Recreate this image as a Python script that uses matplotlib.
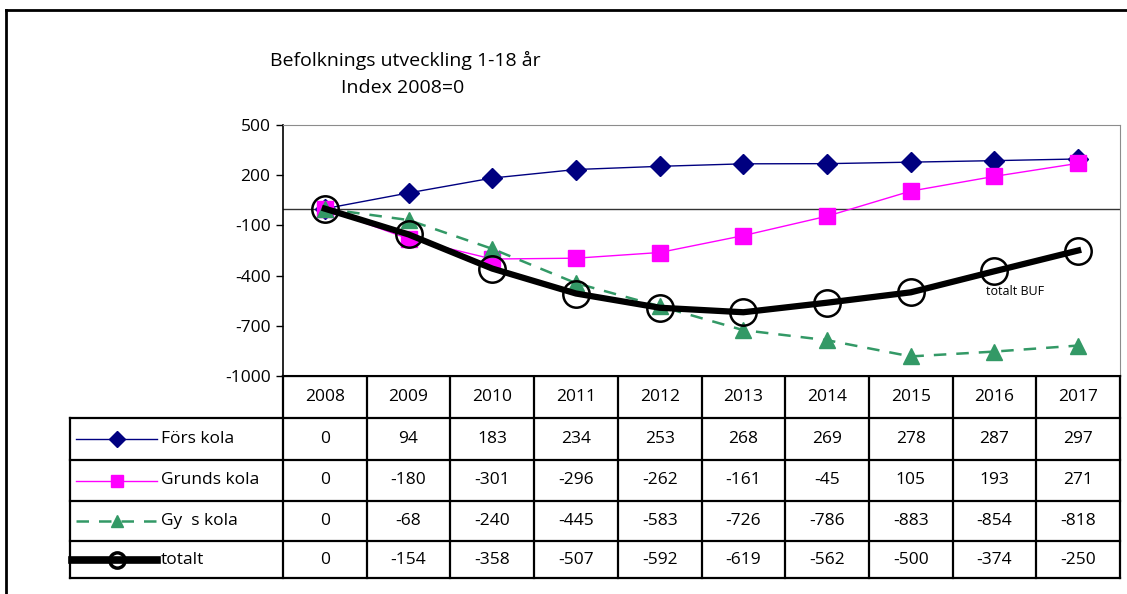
import matplotlib
matplotlib.use("Agg")
import matplotlib.pyplot as plt
from matplotlib.lines import Line2D

plt.rcParams['font.family'] = ['Open Sans', 'DejaVu Sans']

years = [2008, 2009, 2010, 2011, 2012, 2013, 2014, 2015, 2016, 2017]
forskola = [0, 94, 183, 234, 253, 268, 269, 278, 287, 297]
grundskola = [0, -180, -301, -296, -262, -161, -45, 105, 193, 271]
gyskola = [0, -68, -240, -445, -583, -726, -786, -883, -854, -818]
totalt = [0, -154, -358, -507, -592, -619, -562, -500, -374, -250]

series_names = ['Förs kola', 'Grunds kola', 'Gy  s kola', 'totalt']
yticks = [500, 200, -100, -400, -700, -1000]

W, H = 1127, 594
FS = 12.5
fig = plt.figure(figsize=(W / 100, H / 100), dpi=100)

# pixel layout
px_left, px_right = 283, 1120
px_top, px_bottom = 125, 376
row_edges = [376, 418, 460, 501, 541, 578]
leg_left = 70

ax = fig.add_axes([px_left / W, 1 - px_bottom / H,
                   (px_right - px_left) / W, (px_bottom - px_top) / H])
ax.set_xlim(-0.5, len(years) - 0.5)
ax.set_ylim(-1000, 500)
ax.set_yticks(yticks)
ax.set_yticklabels([str(v) for v in yticks], fontsize=FS)
ax.tick_params(axis='y', direction='out', length=5, width=1, pad=4)
ax.set_xticks([])
ax.spines['top'].set_color('#8c8c8c')
ax.spines['right'].set_color('#8c8c8c')
ax.spines['left'].set_linewidth(1.2)
ax.spines['bottom'].set_linewidth(1.5)
ax.axhline(0, color='#333333', lw=1)

x = list(range(len(years)))
styles = [
    dict(color='#000080', lw=1, marker='D', ms=10, mec='#000080', mfc='#000080'),
    dict(color='#ff00ff', lw=1, marker='s', ms=11, mec='#ff00ff', mfc='#ff00ff'),
    dict(color='#339966', lw=1.8, ls=(0, (5, 4)), marker='^', ms=11, mec='#339966', mfc='#339966'),
    dict(color='black', lw=4.5, marker='o', ms=19, mfc='none', mec='black', mew=1.8),
]
for vals, st in zip([forskola, grundskola, gyskola, totalt], styles):
    ax.plot(x, vals, clip_on=False, **st)

ax.text(8.25, -495, 'totalt BUF', fontsize=9, ha='center', va='center')

# title
fig.text(405 / W, 1 - 60 / H, 'Befolknings utveckling 1-18 år', fontsize=14,
         ha='center', va='center')
fig.text(403 / W, 1 - 88 / H, 'Index 2008=0', fontsize=14,
         ha='center', va='center')

# data table below the plot
tab = fig.add_axes([0, 0, 1, 1], zorder=-1)
tab.set_xlim(0, W)
tab.set_ylim(H, 0)
tab.axis('off')

col_w = (px_right - px_left) / len(years)
lw = 1.6
for i, y in enumerate(row_edges):
    x0 = px_left if i == 0 else leg_left
    tab.plot([x0, px_right], [y, y], color='black', lw=lw)
for j in range(len(years) + 1):
    xv = px_left + j * col_w
    tab.plot([xv, xv], [row_edges[0], row_edges[-1]], color='black', lw=lw)
tab.plot([leg_left, leg_left], [row_edges[1], row_edges[-1]], color='black', lw=lw)

for j, yr in enumerate(years):
    tab.text(px_left + (j + 0.5) * col_w, (row_edges[0] + row_edges[1]) / 2,
             str(yr), ha='center', va='center', fontsize=FS)

for r, (vals, name, st) in enumerate(zip([forskola, grundskola, gyskola, totalt],
                                         series_names, styles)):
    yc = (row_edges[r + 1] + row_edges[r + 2]) / 2
    for j, v in enumerate(vals):
        tab.text(px_left + (j + 0.5) * col_w, yc, str(v), ha='center',
                 va='center', fontsize=FS)
    # legend key: line with one marker in the middle
    kst = dict(st)
    if r == 3:
        kst['ms'] = 11
        kst['lw'] = 5.5
        kst['mew'] = 2.5
        x0 = 72
    else:
        kst['ms'] = kst['ms'] * 0.85
        x0 = 76
    tab.add_line(Line2D([x0, 117, 157], [yc, yc, yc], markevery=[1], **kst))
    tab.text(161, yc, name, ha='left', va='center', fontsize=FS)

# outer frame (left and top edges)
fig.add_artist(Line2D([6 / W, 6 / W], [0, 1 - 10 / H], transform=fig.transFigure,
                      color='black', lw=2))
fig.add_artist(Line2D([6 / W, 1], [1 - 10 / H, 1 - 10 / H], transform=fig.transFigure,
                      color='black', lw=2))

fig.savefig('out.png', dpi=100)
